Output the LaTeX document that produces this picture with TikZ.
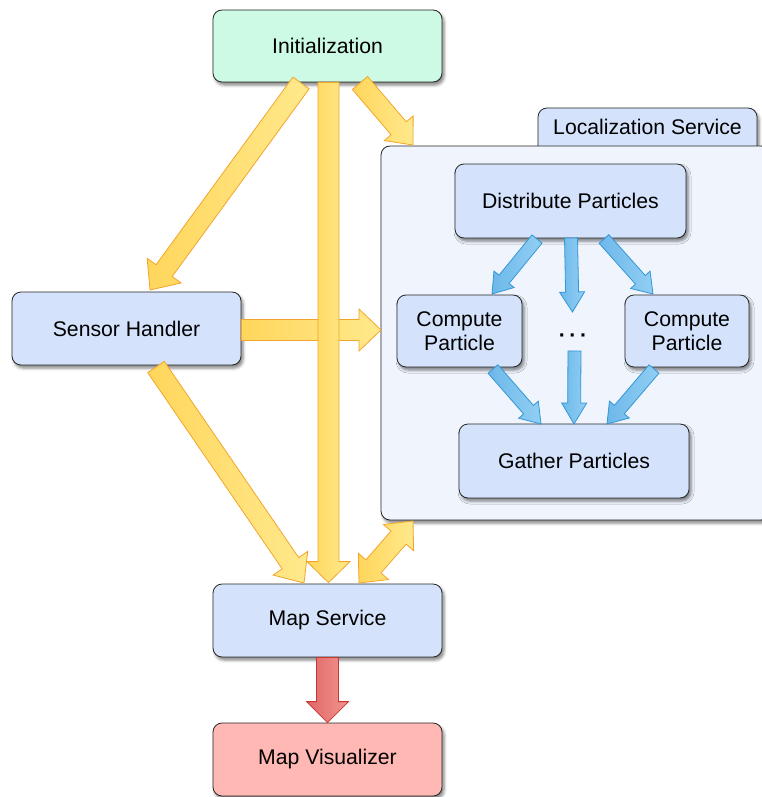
\documentclass[tikz,border=0pt]{standalone}
\usepackage{fontspec}
\setmainfont{Liberation Sans}
\usetikzlibrary{calc,shadows.blur}

\definecolor{mint}{HTML}{CCFAE5}
\definecolor{paleblue}{HTML}{D4E3FB}
\definecolor{panel}{HTML}{EFF4FD}
\definecolor{pink}{HTML}{FFB8B3}
\definecolor{yelA}{HTML}{FFD65C}
\definecolor{yelB}{HTML}{FFE98C}
\definecolor{yelEdge}{HTML}{F2A52A}
\definecolor{bluA}{HTML}{6DB8EA}
\definecolor{bluB}{HTML}{92CFF3}
\definecolor{bluEdge}{HTML}{3396D6}
\definecolor{redA}{HTML}{E06666}
\definecolor{redB}{HTML}{F29590}
\definecolor{redEdge}{HTML}{C4362F}

% single block arrow: #1 style, #2 from, #3 to, #4 half shaft, #5 half head, #6 head length
\newcommand\blockarrow[6]{%
  \coordinate (hb) at ($(#3)!#6!(#2)$);
  \path[#1] ($(#2)!#4!90:(#3)$) -- ($(hb)!#4!90:(#3)$) -- ($(hb)!#5!90:(#3)$)
    -- (#3) -- ($(hb)!#5!-90:(#3)$) -- ($(hb)!#4!-90:(#3)$) -- ($(#2)!#4!-90:(#3)$) -- cycle;}
% double-headed block arrow, same arguments
\newcommand\dblarrow[6]{%
  \coordinate (ha) at ($(#2)!#6!(#3)$);
  \coordinate (hb) at ($(#3)!#6!(#2)$);
  \path[#1] (#2) -- ($(ha)!#5!-90:(#3)$) -- ($(ha)!#4!-90:(#3)$) -- ($(hb)!#4!-90:(#3)$)
    -- ($(hb)!#5!-90:(#3)$) -- (#3) -- ($(hb)!#5!90:(#3)$) -- ($(hb)!#4!90:(#3)$)
    -- ($(ha)!#4!90:(#3)$) -- ($(ha)!#5!90:(#3)$) -- cycle;}

\tikzset{
  box/.style={draw=black!85, line width=0.8pt, rounded corners=9pt, inner sep=0pt,
    align=center, font=\fontsize{21.2}{24}\selectfont,
    blur shadow={shadow xshift=2pt, shadow yshift=-3pt, shadow blur radius=3pt, shadow opacity=50}},
  yarrow/.style={left color=yelA, right color=yelB, draw=yelEdge, line width=0.8pt, line join=miter},
  barrow/.style={left color=bluA, right color=bluB, draw=bluEdge, line width=0.8pt, line join=miter},
  rarrow/.style={left color=redA, right color=redB, draw=redEdge, line width=0.8pt, line join=miter},
  label/.style={font=\fontsize{21.2}{24}\selectfont, inner sep=0pt}
}

\begin{document}
\begin{tikzpicture}[x=1pt,y=-1pt]
\useasboundingbox (0,0) rectangle (761,797);

% localization service panel with its tab
\node[box, fill=paleblue, minimum width=219pt, minimum height=62pt] (tab) at (647.5,139) {};
\node[label] (tabtitle) at (647.5,127) {Localization Service};
\node[box, fill=panel, minimum width=389pt, minimum height=374pt] (loc) at (575.5,333) {};

% main components
\node[box, fill=mint, minimum width=229pt, minimum height=72pt] (init) at (327.5,46) {Initialization};
\node[box, fill=paleblue, minimum width=229pt, minimum height=73pt] (sensor) at (126.5,328.5) {Sensor Handler};
\node[box, fill=paleblue, minimum width=229pt, minimum height=73pt] (map) at (327.5,620.5) {Map Service};
\node[box, fill=pink, minimum width=229pt, minimum height=73pt] (vis) at (327.5,759.5) {Map Visualizer};

% particle filter stages
\node[box, fill=paleblue, minimum width=231pt, minimum height=74pt] (dp) at (570.5,201) {Distribute Particles};
\node[box, fill=paleblue, minimum width=125pt, minimum height=72pt] (cpl) at (459.5,331) {Compute\\Particle};
\node[box, fill=paleblue, minimum width=124pt, minimum height=72pt] (cpr) at (687,331) {Compute\\Particle};
\node[label, font=\bfseries\fontsize{21.2}{24}\selectfont] (dots) at (573,338.5) {·\hspace{3.5pt}·\hspace{3.5pt}·};
\node[box, fill=paleblue, minimum width=230pt, minimum height=74pt] (gp) at (574,461) {Gather Particles};

% arrow end points
\coordinate (i1) at (301,83);   \coordinate (s1) at (150,290);
\coordinate (i2) at ($(init.south)+(1,0)$); \coordinate (m2) at ($(map.north)+(1,-1)$);
\coordinate (i3) at (360,83);   \coordinate (l3) at (413,145);
\coordinate (s4) at ($(sensor.east)+(0,1.5)$); \coordinate (l4) at (381,330);
\coordinate (s5) at (156,367);  \coordinate (m5) at (304,583);
\coordinate (m6) at (359,583);  \coordinate (l6) at (413,521);
\coordinate (m7) at (map.south); \coordinate (v7) at (vis.north);

% flows between components
\blockarrow{yarrow}{s4}{l4}{10.5pt}{21pt}{22pt}
\blockarrow{yarrow}{i1}{s1}{10pt}{21pt}{24pt}
\blockarrow{yarrow}{i2}{m2}{10.5pt}{21.5pt}{21pt}
\blockarrow{yarrow}{i3}{l3}{10pt}{19pt}{22pt}
\blockarrow{yarrow}{s5}{m5}{10pt}{21pt}{24pt}
\dblarrow{yarrow}{m6}{l6}{10pt}{20pt}{22pt}
\blockarrow{rarrow}{m7}{v7}{11pt}{21pt}{21pt}

% particle flows
\coordinate (d1) at (537,239);  \coordinate (c1) at (492,294);
\coordinate (d2) at (571,238);  \coordinate (c2) at (572.5,312);
\coordinate (d3) at (604,239);  \coordinate (c3) at (653,294);
\coordinate (c4) at (493,369);  \coordinate (g4) at (541,424);
\coordinate (c5) at (574.5,351);  \coordinate (g5) at (574,424);
\coordinate (c6) at (654,369);  \coordinate (g6) at (607,424);
\blockarrow{barrow}{d1}{c1}{6.5pt}{13pt}{19pt}
\blockarrow{barrow}{d2}{c2}{6.5pt}{12.5pt}{20pt}
\blockarrow{barrow}{d3}{c3}{6.5pt}{13pt}{19pt}
\blockarrow{barrow}{c4}{g4}{6.5pt}{13pt}{19pt}
\blockarrow{barrow}{c5}{g5}{6.5pt}{12.5pt}{21pt}
\blockarrow{barrow}{c6}{g6}{6.5pt}{13pt}{19pt}
\end{tikzpicture}
\end{document}
